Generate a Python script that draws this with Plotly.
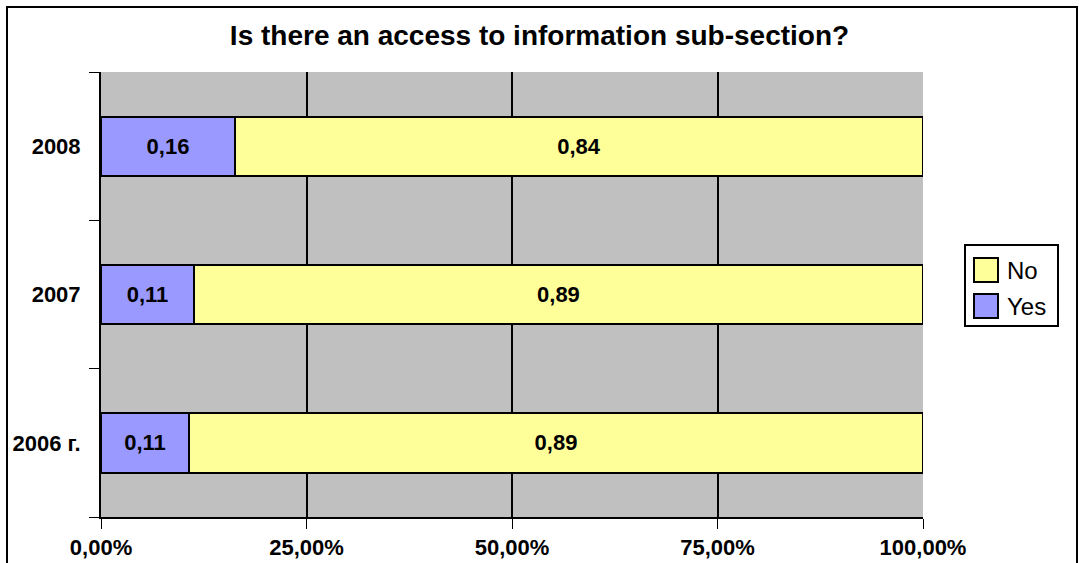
import plotly.graph_objects as go

categories = ["2006 г.", "2007", "2008"]
yes_vals = [0.107, 0.113, 0.163]
no_vals = [0.893, 0.887, 0.837]
x_ticks = [0, 0.25, 0.5, 0.75, 1.0]
series_names = ["No", "Yes"]
title_text = "Is there an access to information sub-section?"

W, H = 1079, 563
L, R, T, B = 101, 156, 72, 46
pw, ph = W - L - R, H - T - B

FONT = "Liberation Sans, Arial, sans-serif"
YES_C, NO_C = "#9999FF", "#FFFF99"

fig = go.Figure()
fig.add_trace(go.Bar(
    y=categories, x=yes_vals, name="Yes", orientation="h",
    marker=dict(color=YES_C, line=dict(color="black", width=2)),
    texttemplate="<b>%{x:.2f}</b>", textposition="inside",
    insidetextanchor="middle", textangle=0,
    textfont=dict(family=FONT, size=22, color="black"),
    cliponaxis=False, showlegend=False,
))
fig.add_trace(go.Bar(
    y=categories, x=no_vals, name="No", orientation="h",
    marker=dict(color=NO_C, line=dict(color="black", width=2)),
    texttemplate="<b>%{x:.2f}</b>", textposition="inside",
    insidetextanchor="middle", textangle=0,
    textfont=dict(family=FONT, size=22, color="black"),
    cliponaxis=False, showlegend=False,
))

def px_x(px):
    return (px - L) / pw

def px_y(py):
    return (H - B - py) / ph

shapes = [
    # outer chart border
    dict(type="rect", xref="paper", yref="paper",
         x0=px_x(7), x1=px_x(1077), y0=px_y(590), y1=px_y(7),
         line=dict(color="black", width=2), fillcolor="rgba(0,0,0,0)", layer="above"),
    # legend box
    dict(type="rect", xref="paper", yref="paper",
         x0=px_x(965), x1=px_x(1058), y0=px_y(326), y1=px_y(245),
         line=dict(color="black", width=2), fillcolor="white", layer="above"),
]
annotations = []
legend_colors = {"No": NO_C, "Yes": YES_C}
for i, nm in enumerate(series_names):
    top = 258 + i * 36
    shapes.append(dict(type="rect", xref="paper", yref="paper",
                       x0=px_x(974), x1=px_x(998), y0=px_y(top + 24), y1=px_y(top),
                       line=dict(color="black", width=2), fillcolor=legend_colors[nm],
                       layer="above"))
    annotations.append(dict(text=nm, xref="paper", yref="paper",
                            x=px_x(1005), y=px_y(top + 12), xanchor="left", yanchor="middle",
                            showarrow=False, font=dict(family=FONT, size=24, color="black")))

fig.update_layout(
    width=W, height=H,
    margin=dict(l=L, r=R, t=T, b=B, pad=0, autoexpand=False),
    barmode="stack", bargap=0.6,
    separators=",.",
    plot_bgcolor="#C0C0C0", paper_bgcolor="white",
    font=dict(family=FONT, color="black"),
    showlegend=False,
    title=dict(text="<b>" + title_text + "</b>", x=0.5, xanchor="center",
               y=1 - 35 / H, yanchor="middle", xref="container", yref="container",
               font=dict(size=28, family=FONT, color="black")),
    xaxis=dict(
        range=[0, 1], tickvals=x_ticks, tickformat=".2%",
        showgrid=True, gridcolor="black", gridwidth=2,
        showline=True, linecolor="black", linewidth=2,
        ticks="outside", ticklen=10, tickcolor="black", tickwidth=1,
        tickfont=dict(size=22, family=FONT, color="black", weight="bold"),
        zeroline=False, fixedrange=True, automargin=False,
    ),
    yaxis=dict(
        range=[-0.5, 2.5], type="category",
        showline=True, linecolor="black", linewidth=2,
        ticks="outside", ticklen=10, tickcolor="black", tickwidth=1,
        tickson="boundaries", showgrid=False,
        ticklabelstandoff=14,
        tickfont=dict(size=22, family=FONT, color="black", weight="bold"),
        fixedrange=True, automargin=False,
    ),
    shapes=shapes,
    annotations=annotations,
)

fig.write_html("out.html", config={"displayModeBar": False},
               post_script="document.body.style.margin='0';document.body.style.overflow='hidden';")
